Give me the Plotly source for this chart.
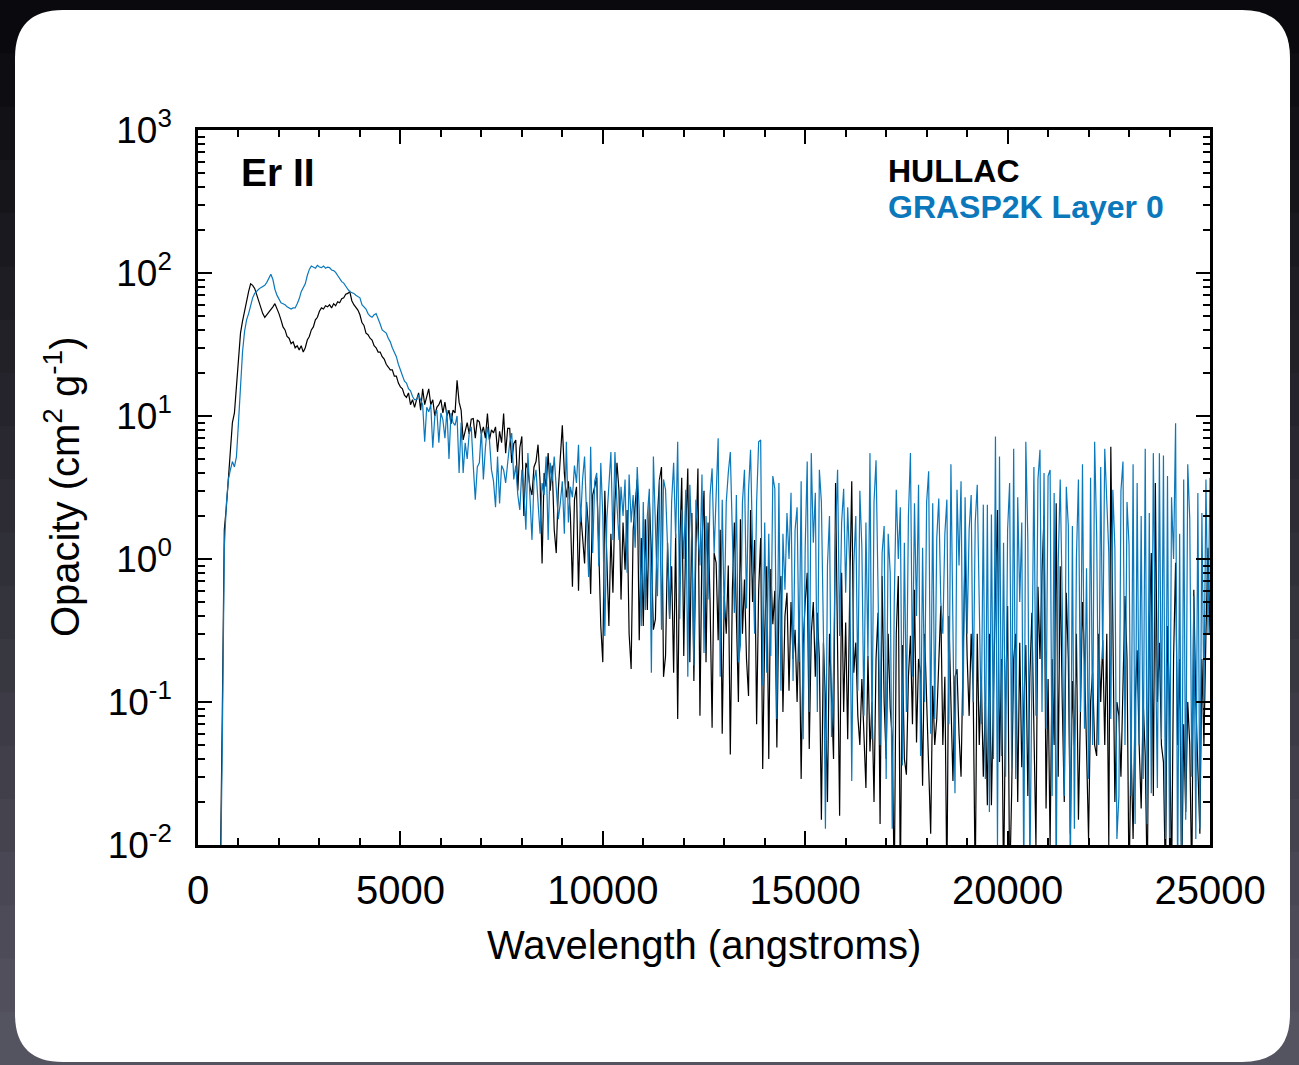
import plotly.graph_objects as go

# ---------------- data ----------------
# Opacity sampled every 50 angstroms starting at 500 angstroms.
wavelength_start = 500
wavelength_step = 50

hullac_opacity = [
    # 500-950
    0.002, 0.006, 0.08, 1.6, 2.3, 3.8, 6.0, 9.0, 10.5, 16,
    # 1000-1950
    25, 38, 46, 55, 66, 74, 84, 82, 78, 70, 63, 57, 52, 49, 51, 54, 56, 58, 61, 57,
    # 2000-2950
    52, 47, 42, 40, 36, 35, 32, 33, 30, 31, 29, 31, 28, 30, 34, 36, 40, 42, 47, 49,
    # 3000-3950
    54, 57, 56, 59, 58, 60, 57, 61, 59, 63, 62, 66, 67, 71, 72, 74, 64, 60, 57, 55,
    # 4000-4950
    51, 45, 43, 38, 37, 35, 34, 31, 30, 28, 28, 26, 25, 23, 22, 21, 21, 19, 19, 17,
    # 5000-5950
    16, 15.5, 14, 13.5, 14.5, 12, 13, 11.5, 13, 14.5, 11, 15.5, 12, 14, 15.5, 12, 13, 10, 11.5, 12,
    # 6000-6950
    13, 10.5, 12.5, 10, 11, 8.8, 11, 10.5, 17.8, 12.5, 11, 6.8, 8, 9, 7.5, 9.5, 9.6, 7, 9.4, 9.1,
    # 7000-7950
    7.5, 8.4, 7, 10.4, 6.8, 8, 7.6, 8.4, 5.6, 7.8, 6.5, 10.4, 5.5, 8.2, 8.2, 4.7, 6.4, 6.8, 3.0, 6,
    # 8000-8950
    7.2, 2.0, 4.7, 4.2, 3.2, 2.8, 4.4, 4.8, 6.3, 3.5, 0.93, 4.0, 3.2, 5.5, 3.0, 4.5, 1.6, 1.1, 3.0, 5.0,
    # 9000-9950
    8.6, 4.0, 2.7, 3.5, 2.0, 0.64, 2.6, 3.2, 0.6, 2.2, 1.5, 0.93, 2.5, 1.6, 0.57, 2.8, 3.2, 3.7, 1.2, 0.34,
    # 10000-10950
    0.19, 3.0, 1.0, 0.34, 1.5, 0.58, 2.5, 4.7, 3.0, 0.52, 1.8, 0.84, 2.2, 0.30, 0.17, 1.6, 2.4, 3.6, 0.27, 1.4,
    # 11000-11950
    0.34, 1.9, 0.44, 2.6, 1.1, 0.32, 0.38, 2.0, 3.6, 4.4, 0.15, 0.21, 1.3, 0.38, 0.89, 0.16, 1.5, 0.076, 1.2, 3.7,
    # 12000-12950
    0.21, 1.6, 4.3, 0.19, 2.1, 0.14, 1.2, 4.3, 0.08, 1.3, 3.0, 0.19, 1.8, 0.5, 0.066, 1.1, 0.94, 0.27, 1.6, 0.06,
    # 13000-13950
    0.55, 0.3, 0.9, 0.043, 0.6, 1.8, 0.4, 0.1, 1.9, 0.3, 0.72, 0.2, 0.11, 2.2, 0.5, 1.36, 0.07, 0.6, 1.4, 0.034,
    # 14000-14950
    0.3, 0.89, 0.04, 0.85, 0.35, 0.6, 0.048, 0.5, 0.76, 0.085, 0.4, 0.58, 0.12, 0.5, 0.2, 0.32, 0.1, 0.4, 0.029, 0.25,
    # 15000-15950
    0.5, 0.8, 0.047, 0.3, 0.5, 0.15, 0.42, 0.2, 0.015, 0.26, 0.1, 0.02, 0.3, 0.1, 0.04, 3.4, 0.2, 0.016, 0.8, 0.085,
    # 16000-16950
    0.36, 0.055, 0.6, 3.5, 0.16, 0.26, 0.08, 0.05, 0.145, 0.06, 0.025, 0.21, 0.045, 0.1, 0.02, 0.2, 0.42, 0.014, 0.76, 0.1,
    # 17000-17950
    0.04, 0.3, 0.09, 0.057, 0.005, 0.3, 0.76, 0.005, 0.25, 0.04, 0.031, 0.15, 0.29, 0.07, 0.61, 0.052, 0.2, 0.16, 0.026, 0.3,
    # 18000-18950
    0.1, 0.05, 0.012, 0.13, 0.05, 0.076, 0.2, 0.47, 0.05, 0.15, 0.005, 0.4, 0.1, 0.028, 0.15, 0.17, 0.06, 0.03, 0.2, 1.2,
    # 19000-19950
    0.21, 0.08, 0.3, 0.12, 0.005, 0.3, 0.05, 0.15, 0.03, 0.1, 0.019, 0.3, 0.019, 0.15, 0.6, 2.2, 0.038, 0.2, 0.005, 0.1,
    # 20000-20950
    0.47, 0.005, 0.023, 0.2, 0.3, 0.02, 0.26, 0.035, 0.1, 0.25, 0.022, 0.15, 0.42, 0.05, 0.01, 0.64, 0.2, 0.8, 2.0, 0.018,
    # 21000-21950
    0.145, 0.01, 0.2, 0.05, 2.45, 0.03, 0.89, 0.1, 0.02, 0.58, 0.2, 0.012, 0.14, 0.05, 0.3, 0.015, 0.1, 0.5, 0.2, 0.04,
    # 22000-22950
    0.011, 0.1, 0.16, 0.05, 0.042, 0.3, 0.1, 0.27, 0.05, 0.3, 0.01, 6.1, 0.5, 0.02, 0.1, 0.08, 0.03, 0.15, 0.55, 0.2,
    # 23000-23950
    0.005, 0.05, 0.011, 0.1, 0.23, 0.05, 0.018, 0.1, 0.042, 0.005, 0.3, 1.1, 0.022, 3.4, 0.1, 0.26, 0.05, 0.038, 0.005, 0.34,
    # 24000-24950
    0.1, 0.005, 0.2, 0.94, 0.05, 0.2, 0.005, 0.07, 0.017, 0.1, 0.05, 0.005, 0.61, 0.1, 0.03, 0.012, 0.2, 0.05, 0.3, 1.2,
    # 25000
    0.3,
]

grasp_opacity = [
    # 500-950
    0.002, 0.004, 0.05, 1.2, 2.4, 3.6, 4.2, 4.8, 4.4, 5.2,
    # 1000-1950
    9, 17, 28, 39, 47, 52, 60, 67, 72, 75, 77, 79, 80, 82, 86, 91, 98, 90, 77, 70,
    # 2000-2950
    65, 62, 61, 60, 58, 57, 56, 57, 57, 61, 66, 74, 79, 84, 96, 106, 112, 110, 108, 113,
    # 3000-3950
    110, 109, 112, 108, 110, 109, 105, 104, 101, 96, 91, 87, 85, 80, 77, 74, 73, 72, 70, 68,
    # 4000-4950
    67, 60, 58, 56, 52, 50, 49, 51, 52, 47, 44, 40, 39, 38, 35, 33, 30, 28, 26, 23,
    # 5000-5950
    21, 19, 17.5, 17, 15.5, 15, 13.7, 13, 13, 14, 13, 12, 6.6, 11.5, 10.7, 12, 6, 10, 11, 6.5,
    # 6000-6950
    10.5, 9.4, 7, 11, 5, 10.5, 9, 8.6, 10, 4, 9, 4, 6.5, 5, 7.6, 8.4, 4.5, 2.6, 4.4, 4.7,
    # 7000-7950
    8, 3.6, 6, 8.4, 6.8, 4.2, 3.5, 2.3, 5.2, 2.45, 4.5, 4.2, 3.4, 5, 6.5, 7.6, 3.6, 4.5, 2.8, 2.2,
    # 8000-8950
    4.2, 3, 1.6, 5.5, 3, 1.36, 3.5, 4.2, 2.5, 1.5, 3.4, 2.8, 5.2, 1.36, 4.7, 3.5, 5.2, 3, 1.9, 2.45,
    # 9000-9950
    3.5, 1.5, 6.6, 1.8, 3.2, 2.7, 4.5, 3.4, 6.3, 1.8, 3.6, 5.2, 2.2, 0.75, 6.1, 1.1, 3.5, 4.0, 0.89, 4.7,
    # 10000-10950
    2.0, 0.29, 1.9, 3.0, 5.6, 1.36, 5.6, 2.4, 1.36, 3.2, 2.0, 3.6, 0.8, 3.9, 1.8, 2.8, 1.2, 4.4, 2.2, 0.34,
    # 11000-11950
    2.5, 0.44, 2.0, 3.1, 0.16, 5.2, 1.5, 0.55, 3.6, 0.32, 3.6, 3.05, 1.2, 0.38, 2.5, 4.7, 1.4, 6.6, 0.38, 2.2,
    # 12000-12950
    1.0, 3.05, 0.15, 3.3, 1.3, 0.18, 2.6, 1.6, 0.9, 3.9, 0.22, 2.0, 0.52, 2.8, 4.3, 1.1, 3.0, 7.0, 0.15, 2.6,
    # 13000-13950
    0.38, 2.5, 4.0, 5.6, 1.5, 0.42, 2.8, 0.19, 0.25, 2.5, 4.2, 0.45, 3.0, 5.8, 1.2, 0.30, 2.5, 6.6, 6.8, 0.13,
    # 14000-14950
    1.8, 0.16, 1.5, 0.21, 3.8, 3.1, 0.076, 3.4, 0.12, 1.5, 0.61, 2.1, 1.0, 2.9, 0.14, 1.6, 2.3, 0.19, 3.5, 0.055,
    # 15000-15950
    1.2, 4.8, 0.085, 5.5, 1.3, 2.9, 0.085, 4.2, 2.5, 0.3, 0.013, 0.9, 2.0, 0.057, 0.17, 1.5, 4.2, 0.29, 1.8, 3.1,
    # 16000-16950
    0.58, 2.3, 0.89, 0.028, 0.9, 2.0, 0.12, 3.0, 1.2, 0.08, 1.8, 0.2, 5.5, 0.055, 2.5, 4.9, 0.6, 0.05, 1.1, 1.7,
    # 17000-17950
    0.029, 1.5, 0.8, 0.013, 0.5, 3.05, 1.0, 2.3, 0.036, 1.3, 0.085, 2.0, 5.5, 0.15, 2.45, 0.4, 3.3, 0.042, 1.2, 0.1,
    # 18000-18950
    2.5, 4.1, 0.06, 2.45, 0.076, 1.4, 2.65, 0.5, 0.3, 1.5, 2.6, 0.07, 4.6, 0.4, 0.023, 3.05, 0.9, 3.5, 0.08, 2.7,
    # 19000-19950
    0.3, 1.6, 2.8, 0.1, 1.8, 3.3, 0.5, 0.07, 2.4, 0.029, 2.4, 0.017, 2.05, 0.04, 7.2, 0.01, 5.2, 0.042, 1.3, 0.03,
    # 20000-20950
    1.6, 3.4, 0.034, 5.9, 0.029, 2.7, 0.5, 1.8, 0.005, 6.6, 1.36, 0.006, 0.145, 4.4, 0.08, 3.6, 5.8, 0.085, 4.0, 0.065,
    # 21000-21950
    3.8, 4.2, 0.022, 2.9, 0.005, 0.91, 3.6, 0.5, 0.022, 3.2, 1.7, 0.005, 1.7, 0.013, 1.02, 3.6, 0.085, 4.6, 0.065, 0.86,
    # 22000-22950
    0.029, 3.7, 0.05, 6.6, 1.5, 0.05, 4.4, 0.2, 5.9, 2.9, 1.1, 0.076, 3.05, 1.2, 0.011, 0.022, 3.0, 4.8, 0.05, 2.5,
    # 23000-23950
    1.26, 0.022, 4.6, 0.014, 3.4, 0.05, 2.0, 0.029, 5.9, 0.014, 2.1, 0.023, 5.5, 0.3, 0.025, 5.5, 0.055, 5.3, 0.011, 3.8,
    # 24000-24950
    0.01, 2.7, 1.0, 8.9, 0.005, 1.5, 0.005, 3.6, 0.015, 4.6, 1.9, 0.03, 0.55, 0.011, 2.9, 0.013, 2.1, 0.1, 3.6, 0.3,
    # 25000
    3.7,
]

hullac_wavelength = [wavelength_start + wavelength_step * i for i in range(len(hullac_opacity))]
grasp_wavelength = [wavelength_start + wavelength_step * i for i in range(len(grasp_opacity))]

x_tickvals = [0, 5000, 10000, 15000, 20000, 25000]
x_ticktext = ["0", "5000", "10000", "15000", "20000", "25000"]
y_tickvals = [0.01, 0.1, 1, 10, 100, 1000]
y_ticktext = ["10<sup>-2</sup>", "10<sup>-1</sup>", "10<sup>0</sup>",
              "10<sup>1</sup>", "10<sup>2</sup>", "10<sup>3</sup>"]
x_minor_vals = [v for v in range(0, 25001, 1000) if v % 5000 != 0]
y_minor_vals = [m * 10.0 ** k for k in range(-2, 3) for m in range(2, 10)]

series_names = ["HULLAC", "GRASP2K Layer 0"]
series_colors = ["#000000", "#0a78bb"]

# ---------------- layout geometry ----------------
W, H = 1299, 1065
L, T, PW, PH = 198, 130, 1012, 715
FONT = "Liberation Sans, Arial, Helvetica, sans-serif"


def px(xp):
    return (xp - L) / PW


def py(yp):
    return (T + PH - yp) / PH


fig = go.Figure()
fig.add_trace(go.Scatter(x=hullac_wavelength, y=hullac_opacity, mode="lines",
                         name=series_names[0],
                         line=dict(color=series_colors[0], width=1.2)))
fig.add_trace(go.Scatter(x=grasp_wavelength, y=grasp_opacity, mode="lines",
                         name=series_names[1],
                         line=dict(color=series_colors[1], width=1.2)))

# background gradient bands + white rounded card
shapes = []
nb = 20
c0 = (10, 10, 14)
c1 = (84, 83, 96)
for i in range(nb):
    f = i / (nb - 1)
    col = "rgb({},{},{})".format(*[int(a + (b - a) * f) for a, b in zip(c0, c1)])
    y_top = i * H / nb
    y_bot = (i + 1) * H / nb + 1
    shapes.append(dict(type="rect", xref="paper", yref="paper", layer="below",
                       x0=px(0), x1=px(W), y0=py(y_bot), y1=py(y_top),
                       fillcolor=col, line=dict(width=0)))

x0, x1, y0, y1, r = 15, 1290, 10, 1062, 48


def P(a, b):
    return "{:.5f},{:.5f}".format(px(a), py(b))


card = ("M" + P(x0 + r, y0) + " L" + P(x1 - r, y0) + " Q" + P(x1, y0) + " " + P(x1, y0 + r) +
        " L" + P(x1, y1 - r) + " Q" + P(x1, y1) + " " + P(x1 - r, y1) +
        " L" + P(x0 + r, y1) + " Q" + P(x0, y1) + " " + P(x0, y1 - r) +
        " L" + P(x0, y0 + r) + " Q" + P(x0, y0) + " " + P(x0 + r, y0) + " Z")
shapes.append(dict(type="path", xref="paper", yref="paper", layer="below", path=card,
                   fillcolor="white", line=dict(width=0)))

annotations = [
    dict(text="<b>Er II</b>", xref="paper", yref="paper", x=px(239), y=py(172),
         xanchor="left", yanchor="middle", showarrow=False,
         font=dict(family=FONT, size=39, color="black")),
    dict(text="<b>" + series_names[0] + "</b>", xref="paper", yref="paper", x=px(886), y=py(171),
         xanchor="left", yanchor="middle", showarrow=False,
         font=dict(family=FONT, size=32, color=series_colors[0])),
    dict(text="<b>" + series_names[1] + "</b>", xref="paper", yref="paper", x=px(886), y=py(207),
         xanchor="left", yanchor="middle", showarrow=False,
         font=dict(family=FONT, size=32, color=series_colors[1])),
    dict(text="Opacity (cm<sup>2</sup> g<sup>-1</sup>)", xref="paper", yref="paper",
         x=px(62), y=py(487), textangle=-90, xanchor="center", yanchor="middle",
         showarrow=False, font=dict(family=FONT, size=40, color="black")),
    dict(text="Wavelength (angstroms)", xref="paper", yref="paper",
         x=px(704), y=py(945), xanchor="center", yanchor="middle",
         showarrow=False, font=dict(family=FONT, size=40, color="black")),
]

fig.update_layout(
    width=W, height=H,
    margin=dict(l=L, r=W - L - PW, t=T, b=H - T - PH, pad=0),
    paper_bgcolor="rgb(40,40,46)",
    plot_bgcolor="white",
    showlegend=False,
    shapes=shapes,
    annotations=annotations,
    font=dict(family=FONT, color="black"),
)

fig.update_xaxes(
    range=[0, 25000], tickmode="array", tickvals=x_tickvals, ticktext=x_ticktext,
    ticks="inside", ticklen=14, tickwidth=2, tickcolor="black",
    minor=dict(tickmode="array", tickvals=x_minor_vals, ticks="inside",
               ticklen=7, tickwidth=2, tickcolor="black"),
    showline=True, linewidth=2.5, linecolor="black", mirror="allticks",
    showgrid=False, zeroline=False, ticklabelstandoff=8,
    tickfont=dict(family=FONT, size=40, color="black"),
)
fig.update_yaxes(
    type="log", range=[-2, 3], tickmode="array", tickvals=y_tickvals, ticktext=y_ticktext,
    ticks="inside", ticklen=14, tickwidth=2, tickcolor="black",
    minor=dict(tickmode="array", tickvals=y_minor_vals, ticks="inside",
               ticklen=7, tickwidth=2, tickcolor="black"),
    showline=True, linewidth=2.5, linecolor="black", mirror="allticks",
    showgrid=False, zeroline=False, ticklabelstandoff=16,
    tickfont=dict(family=FONT, size=37, color="black"),
)

fig.write_html("out.html")
